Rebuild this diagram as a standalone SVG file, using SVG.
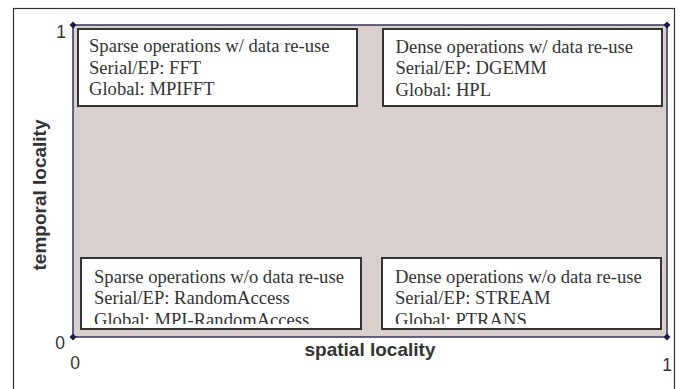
<svg xmlns="http://www.w3.org/2000/svg" width="683" height="389" viewBox="0 0 683 389">
<style>
.box{fill:#fff;stroke:#333;stroke-width:2}
.bt{font-family:"Liberation Serif","Times New Roman",serif;font-size:18.6px;fill:#333}
.ax{font-family:"Liberation Sans",Arial,sans-serif;font-size:19px;font-weight:bold;fill:#333}
.tk{font-family:"Liberation Sans",Arial,sans-serif;font-size:17.5px;fill:#333}
.mk{fill:#1a1a4a}
</style>
<defs>
<clipPath id="cbl"><rect x="82" y="258" width="278" height="66"/></clipPath>
<clipPath id="cbr"><rect x="383" y="258" width="277" height="66"/></clipPath>
</defs>
<rect x="13.5" y="8.5" width="661" height="400" fill="#fff" stroke="#333" stroke-width="1.2"/>
<g id="plot">
<rect x="73" y="25" width="594" height="312" fill="#d9d0ce" stroke="#333366" stroke-width="1.5"/>
</g>
<g id="markers">
<path class="mk" d="M73 21.5 L76.5 25 L73 28.5 L69.5 25 Z"/>
<path class="mk" d="M667 21.5 L670.5 25 L667 28.5 L663.5 25 Z"/>
<path class="mk" d="M667 333.5 L670.5 337 L667 340.5 L663.5 337 Z"/>
<path class="mk" d="M73 333.5 L76.5 337 L73 340.5 L69.5 337 Z"/>
</g>
<g id="ticks">
<text class="tk" x="61" y="38" text-anchor="middle">1</text>
<text class="tk" x="60" y="349" text-anchor="middle">0</text>
<text class="tk" x="75" y="369" text-anchor="middle">0</text>
<text class="tk" x="667" y="371" text-anchor="middle">1</text>
</g>
<g id="axis-labels">
<text class="ax" x="370" y="356" text-anchor="middle">spatial locality</text>
<text class="ax" transform="translate(46,195) rotate(-90)" text-anchor="middle">temporal locality</text>
</g>
<g id="node-tl">
<rect class="box" x="78" y="29" width="279" height="77"/>
<text class="bt" x="89" y="52">Sparse operations w/ data re-use</text>
<text class="bt" x="89" y="73.7">Serial/EP: FFT</text>
<text class="bt" x="89" y="95.4">Global: MPIFFT</text>
</g>
<g id="node-tr">
<rect class="box" x="383" y="29" width="279" height="77"/>
<text class="bt" x="395.5" y="52.5">Dense operations w/ data re-use</text>
<text class="bt" x="395.5" y="74">Serial/EP: DGEMM</text>
<text class="bt" x="395.5" y="95.5">Global: HPL</text>
</g>
<g id="node-bl">
<rect class="box" x="81" y="258" width="280" height="71"/>
<g clip-path="url(#cbl)">
<text class="bt" x="94" y="283">Sparse operations w/o data re-use</text>
<text class="bt" x="94" y="304">Serial/EP: RandomAccess</text>
<text class="bt" x="94" y="326">Global: MPI-RandomAccess</text>
</g>
</g>
<g id="node-br">
<rect class="box" x="382" y="258" width="279" height="71"/>
<g clip-path="url(#cbr)">
<text class="bt" x="395" y="283">Dense operations w/o data re-use</text>
<text class="bt" x="395" y="304">Serial/EP: STREAM</text>
<text class="bt" x="395" y="326">Global: PTRANS</text>
</g>
</g>
</svg>
